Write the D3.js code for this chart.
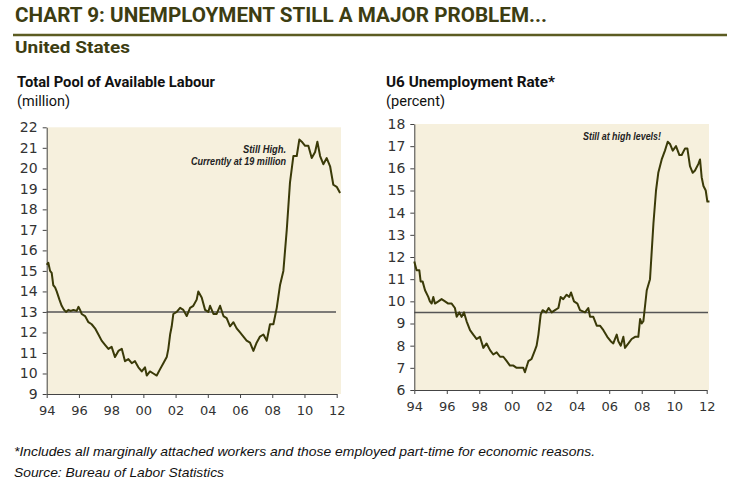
<!DOCTYPE html>
<html>
<head>
<meta charset="utf-8">
<script src="https://cdn.jsdelivr.net/npm/d3@7"></script>
<style>
  body { margin: 0; background: #fff; }
  svg { display: block; }
</style>
</head>
<body>
<div class="canvas"></div>
<script>
const WIDTH = 737;
const HEIGHT = 491;

// data: total pool of available labour (million), decimal years
const poolYears = [
  1994.00, 1994.10, 1994.21, 1994.31, 1994.41, 1994.52, 1994.62, 1994.79, 1994.93, 1995.08,
  1995.20, 1995.34, 1995.49, 1995.66, 1995.86, 1995.97, 1996.07, 1996.17, 1996.38, 1996.59,
  1996.79, 1997.00, 1997.21, 1997.41, 1997.62, 1997.83, 1998.03, 1998.24, 1998.45, 1998.66,
  1998.86, 1999.07, 1999.28, 1999.48, 1999.69, 1999.90, 2000.10, 2000.21, 2000.41, 2000.62,
  2000.83, 2001.03, 2001.24, 2001.45, 2001.55, 2001.66, 2001.76, 2001.86, 2002.07, 2002.28,
  2002.48, 2002.69, 2002.90, 2003.10, 2003.31, 2003.41, 2003.62, 2003.83, 2004.03, 2004.14,
  2004.35, 2004.55, 2004.76, 2004.97, 2005.17, 2005.38, 2005.59, 2005.79, 2006.00, 2006.21,
  2006.41, 2006.62, 2006.83, 2007.03, 2007.24, 2007.45, 2007.66, 2007.86, 2008.07, 2008.28,
  2008.48, 2008.69, 2008.90, 2009.10, 2009.31, 2009.52, 2009.68, 2009.83, 2010.04, 2010.24,
  2010.45, 2010.66, 2010.80, 2010.97, 2011.17, 2011.38, 2011.59, 2011.79, 2012.00, 2012.21
];
const poolValues = [
  15.3, 15.4, 15.0, 14.9, 14.3, 14.2, 14.0, 13.6, 13.3, 13.1,
  13.0, 13.1, 13.05, 13.1, 13.05, 13.25, 13.1, 12.9, 12.8, 12.5,
  12.4, 12.2, 11.9, 11.6, 11.4, 11.2, 11.3, 10.8, 11.1, 11.2,
  10.6, 10.7, 10.5, 10.6, 10.3, 10.1, 10.3, 9.9, 10.1, 10.0,
  9.9, 10.2, 10.5, 10.8, 11.2, 11.9, 12.3, 12.9, 13.0, 13.2,
  13.1, 12.8, 13.2, 13.3, 13.6, 14.0, 13.7, 13.1, 13.0, 13.3,
  12.9, 12.9, 13.3, 12.8, 12.7, 12.3, 12.5, 12.2, 12.0, 11.8,
  11.6, 11.5, 11.1, 11.5, 11.8, 11.9, 11.6, 12.4, 12.4, 13.2,
  14.3, 15.0, 17.0, 19.3, 20.6, 20.6, 21.4, 21.3, 21.1, 21.1,
  20.5, 20.8, 21.3, 20.6, 20.2, 20.5, 20.1, 19.2, 19.1, 18.8
];

// data: U6 unemployment rate (percent), decimal years
const u6Years = [
  1994.00, 1994.14, 1994.31, 1994.39, 1994.51, 1994.66, 1994.86, 1994.96, 1995.07, 1995.17,
  1995.27, 1995.48, 1995.68, 1995.89, 1996.09, 1996.30, 1996.50, 1996.61, 1996.77, 1996.91,
  1997.06, 1997.22, 1997.43, 1997.63, 1997.84, 1998.04, 1998.25, 1998.45, 1998.66, 1998.86,
  1999.07, 1999.28, 1999.48, 1999.69, 1999.89, 2000.10, 2000.30, 2000.51, 2000.71, 2000.81,
  2001.02, 2001.22, 2001.43, 2001.53, 2001.64, 2001.78, 2001.90, 2002.11, 2002.27, 2002.46,
  2002.66, 2002.87, 2003.01, 2003.17, 2003.38, 2003.54, 2003.65, 2003.83, 2004.04, 2004.20,
  2004.51, 2004.71, 2004.82, 2005.02, 2005.23, 2005.43, 2005.64, 2005.88, 2006.09, 2006.25,
  2006.46, 2006.56, 2006.71, 2006.87, 2006.97, 2007.18, 2007.38, 2007.59, 2007.79, 2007.90,
  2008.00, 2008.10, 2008.31, 2008.51, 2008.72, 2008.88, 2009.02, 2009.23, 2009.43, 2009.60,
  2009.74, 2009.91, 2010.11, 2010.32, 2010.46, 2010.67, 2010.81, 2010.97, 2011.14, 2011.28,
  2011.49, 2011.59, 2011.69, 2011.80, 2011.94, 2012.04, 2012.17
];
const u6Values = [
  11.8, 11.4, 11.4, 10.9, 10.9, 10.5, 10.2, 10.0, 9.9, 10.2,
  9.9, 10.0, 10.1, 10.0, 9.9, 9.9, 9.7, 9.3, 9.5, 9.3,
  9.5, 9.1, 8.7, 8.5, 8.3, 8.4, 7.9, 8.1, 7.8, 7.6,
  7.7, 7.5, 7.5, 7.3, 7.1, 7.1, 7.0, 7.0, 7.0, 6.8,
  7.3, 7.4, 7.8, 8.0, 8.5, 9.4, 9.6, 9.5, 9.7, 9.5,
  9.6, 9.7, 10.2, 10.1, 10.3, 10.2, 10.4, 10.0, 9.9, 9.6,
  9.5, 9.7, 9.3, 9.3, 8.9, 8.9, 8.7, 8.4, 8.2, 8.1,
  8.5, 8.2, 8.0, 8.4, 7.9, 8.1, 8.3, 8.4, 8.4, 9.2,
  9.0, 9.1, 10.5, 11.0, 13.5, 15.0, 15.8, 16.4, 16.8, 17.2,
  17.1, 16.8, 17.0, 16.6, 16.6, 16.9, 16.9, 16.1, 15.8, 15.9,
  16.2, 16.4, 15.6, 15.2, 15.0, 14.5, 14.5
];

// tick labels
const yearTicks = [1994, 1996, 1998, 2000, 2002, 2004, 2006, 2008, 2010, 2012];
const poolTicks = d3.range(9, 23);
const u6Ticks = d3.range(6, 19);

// colors
const olive = '#3d3d12';
const ruleOlive = '#5c5c22';
const cream = '#f6f0dd';
const lineColor = '#3a3a08';
const refColor = '#555';
const axisColor = '#444';

const svg = d3.select('.canvas')
  .append('svg')
    .attr('width', WIDTH)
    .attr('height', HEIGHT);

// header
svg.append('text')
  .attr('x', 15).attr('y', 22)
  .attr('font-family', 'Roboto, "Liberation Sans", sans-serif')
  .attr('font-weight', 'bold')
  .attr('font-size', 20)
  .attr('fill', olive)
  .attr('textLength', 532)
  .attr('lengthAdjust', 'spacingAndGlyphs')
  .text('CHART 9: UNEMPLOYMENT STILL A MAJOR PROBLEM...');

svg.append('line')
  .attr('x1', 13).attr('x2', 727)
  .attr('y1', 35).attr('y2', 35)
  .attr('stroke', ruleOlive)
  .attr('stroke-width', 2.5);

svg.append('text')
  .attr('x', 15).attr('y', 53)
  .attr('font-family', 'Roboto, "Liberation Sans", sans-serif')
  .attr('font-weight', 'bold')
  .attr('font-size', 16)
  .attr('fill', olive)
  .attr('textLength', 115)
  .attr('lengthAdjust', 'spacingAndGlyphs')
  .text('United States');

const addText = (x, y, str, size, weight, len) => {
  svg.append('text')
    .attr('x', x).attr('y', y)
    .attr('font-family', 'Roboto, "Liberation Sans", sans-serif')
    .attr('font-weight', weight)
    .attr('font-size', size)
    .attr('fill', '#111')
    .attr('textLength', len)
    .attr('lengthAdjust', 'spacingAndGlyphs')
    .text(str);
};

addText(17, 87, 'Total Pool of Available Labour', 14, 'bold', 198);
addText(17, 106, '(million)', 14, 'normal', 53);
addText(386, 87, 'U6 Unemployment Rate*', 14, 'bold', 169);
addText(386, 106, '(percent)', 14, 'normal', 59);

// one panel
const drawPanel = cfg => {
  const x = d3.scaleLinear()
    .domain([1994, 2012])
    .range(cfg.xRange);

  const y = d3.scaleLinear()
    .domain(cfg.yDomain)
    .range(cfg.yRange);

  const g = svg.append('g');

  // background
  g.append('rect')
    .attr('x', x(1994))
    .attr('y', y(cfg.yDomain[1]))
    .attr('width', cfg.bgRight - x(1994))
    .attr('height', y(cfg.yDomain[0]) - y(cfg.yDomain[1]))
    .attr('fill', cream);

  // reference line
  g.append('line')
    .attr('x1', x(1994)).attr('x2', cfg.refRight)
    .attr('y1', y(cfg.refValue)).attr('y2', y(cfg.refValue))
    .attr('stroke', refColor)
    .attr('stroke-width', 1.5);

  // axes
  const xAxis = d3.axisBottom(x)
    .tickValues(yearTicks)
    .tickSize(4)
    .tickSizeOuter(0)
    .tickPadding(8)
    .tickFormat(d => String(d % 100).padStart(2, '0'));

  const yAxis = d3.axisLeft(y)
    .tickValues(cfg.yTicks)
    .tickSize(4)
    .tickSizeOuter(0)
    .tickPadding(5)
    .tickFormat(d3.format('d'));

  const xAxisGroup = g.append('g')
    .attr('transform', `translate(0, ${y(cfg.yDomain[0])})`)
    .call(xAxis);

  const yAxisGroup = g.append('g')
    .attr('transform', `translate(${x(1994)}, 0)`)
    .call(yAxis);

  [[xAxisGroup, 13], [yAxisGroup, 14]].forEach(([ax, size]) => {
    ax.select('.domain').attr('stroke', axisColor);
    ax.selectAll('.tick line').attr('stroke', axisColor);
    ax.selectAll('text')
      .attr('font-family', '"DejaVu Sans", Verdana, sans-serif')
      .attr('font-size', size)
      .attr('fill', '#333');
  });

  // series line
  const data = cfg.years.map((yr, i) => ({ year: yr, value: cfg.values[i] }));

  const line = d3.line()
    .x(d => x(d.year))
    .y(d => y(d.value));

  g.append('path')
    .datum(data)
    .attr('fill', 'none')
    .attr('stroke', lineColor)
    .attr('stroke-width', 2)
    .attr('stroke-linejoin', 'round')
    .attr('d', line);

  // annotation
  cfg.notes.forEach(n => {
    g.append('text')
      .attr('x', n.x).attr('y', n.y)
      .attr('text-anchor', 'end')
      .attr('font-family', '"Liberation Sans", Arial, sans-serif')
      .attr('font-weight', 'bold')
      .attr('font-style', 'italic')
      .attr('font-size', 10)
      .attr('fill', '#222')
      .attr('textLength', n.len)
      .attr('lengthAdjust', 'spacingAndGlyphs')
      .text(n.text);
  });
};

drawPanel({
  xRange: [46.7, 336.7],
  yDomain: [9, 22],
  yRange: [394, 127.3],
  yTicks: poolTicks,
  bgRight: 341,
  refValue: 13,
  refRight: 336,
  years: poolYears,
  values: poolValues,
  notes: [
    { text: 'Still High.', x: 286, y: 153, len: 43 },
    { text: 'Currently at 19 million', x: 286, y: 165, len: 95 }
  ]
});

drawPanel({
  xRange: [414.3, 706.7],
  yDomain: [6, 18],
  yRange: [390, 124],
  yTicks: u6Ticks,
  bgRight: 709,
  refValue: 9.5,
  refRight: 708,
  years: u6Years,
  values: u6Values,
  notes: [
    { text: 'Still at high levels!', x: 661, y: 140, len: 78 }
  ]
});

// footnotes
const addNote = (y, str, len) => {
  svg.append('text')
    .attr('x', 14).attr('y', y)
    .attr('font-family', '"Liberation Sans", Arial, sans-serif')
    .attr('font-style', 'italic')
    .attr('font-size', 13)
    .attr('fill', '#111')
    .attr('textLength', len)
    .attr('lengthAdjust', 'spacingAndGlyphs')
    .text(str);
};

addNote(456, '*Includes all marginally attached workers and those employed part-time for economic reasons.', 581);
addNote(477, 'Source: Bureau of Labor Statistics', 210);
</script>
</body>
</html>
